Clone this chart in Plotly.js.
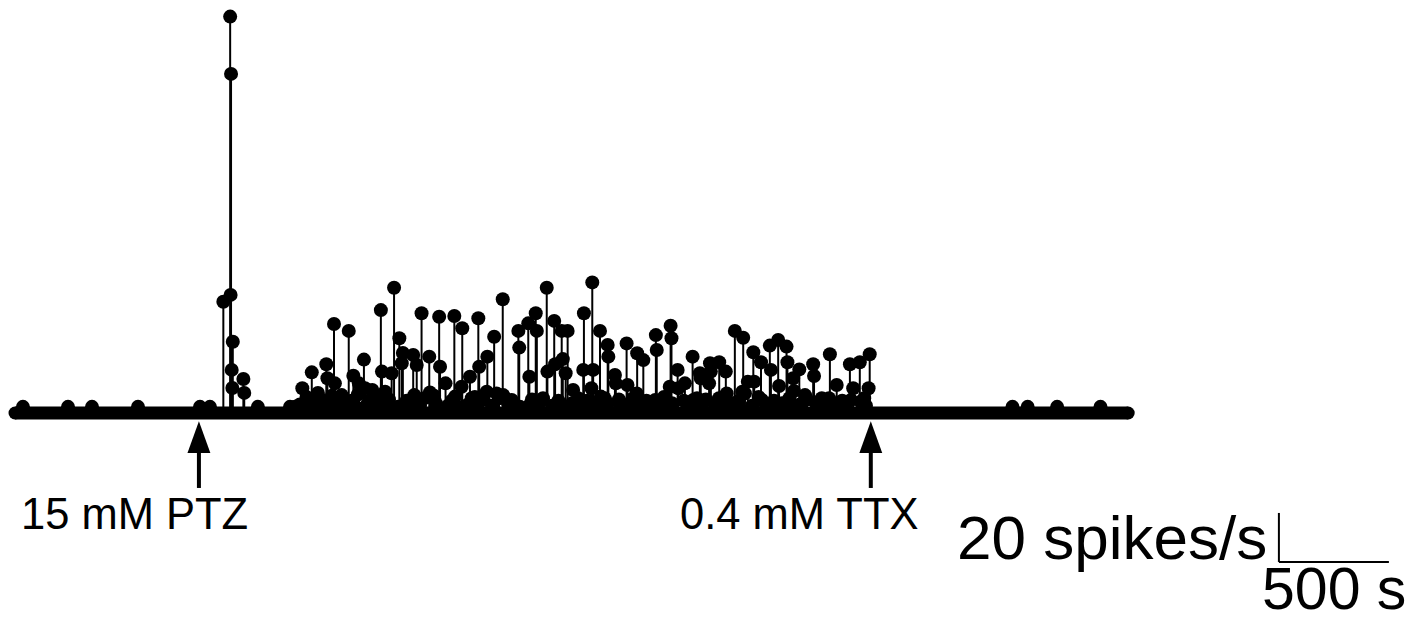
<!DOCTYPE html>
<html>
<head>
<meta charset="utf-8">
<script src="https://cdn.plot.ly/plotly-3.0.1.min.js"></script>
<style>
  html, body { margin: 0; padding: 0; background: #ffffff; }
  #chart { width: 1427px; height: 626px; }
</style>
</head>
<body>
<div id="chart"></div>
<script>
// Firing rate per time bin (s, spikes/s) across the recording.
const binTime = [
  36, 241, 350, 559, 841, 886,
  947, 978, 982, 980, 985, 988, 990, 1038, 1042, 1104, 1250,
  1273, 1295, 1306, 1332, 1349, 1368, 1377, 1395, 1415, 1420, 1432, 1450, 1454, 1468,
  1485, 1500, 1513, 1517, 1538, 1550, 1563, 1586, 1591, 1604, 1624, 1641, 1663, 1668,
  1682, 1695, 1712, 1723, 1741, 1747, 1758, 1763, 1795, 1810, 1815, 1826, 1841, 1848,
  1883, 1886, 1913, 1928, 1932, 1957, 1968, 1997, 2000, 2013, 2030, 2033, 2059, 2068,
  2076, 2104, 2106, 2110, 2144, 2147, 2168, 2178, 2189, 2217, 2219, 2241, 2258, 2288,
  2292, 2295, 2333, 2338, 2341, 2367, 2372, 2386, 2417, 2420, 2441, 2451, 2455, 2477,
  2485, 2490, 2503, 2512, 2532, 2537, 2568, 2583, 2586, 2613, 2620, 2624, 2628, 2650,
  2659, 2663, 2694, 2695, 2697, 2727, 2731, 2750, 2780, 2784, 2795, 2826, 2828, 2841,
  2856, 2886, 2910, 2913, 2917, 2941, 2976, 2980, 2984, 2986, 3012, 3015, 3045, 3068,
  3080, 3083, 3113, 3117, 3122, 3155, 3159, 3163, 3186, 3201, 3222, 3231, 3235, 3268,
  3272, 3306, 3310, 3318, 3331, 3350, 3356, 3360, 3391, 3395, 3413, 3431, 3436, 3469,
  3473, 3486, 3507, 3511, 3522, 3537, 3541, 3565, 3568, 3591, 3628, 3632, 3641, 3667,
  3695, 3704, 3735, 3740, 3777, 3795, 3800, 3810, 3840, 3844, 3868, 3880, 3885,
  4534, 4603, 4737, 4934,
  1325, 1390, 1440, 1472, 1530, 1558, 1612, 1650, 1700, 1780, 1860, 1905, 1985, 2090,
  2130, 2200, 2350, 2400, 2470, 2560, 2600, 2680, 2745, 2810, 2870, 2950, 3040, 3100,
  3140, 3200, 3290, 3380, 3450, 3520, 3600, 3700, 3760, 3860
];
const spikeRate = [
  2.5, 2.5, 2.5, 2.5, 2.5, 2.5,
  45.4, 161.8, 138.4, 48.2, 17.6, 10.2, 29.1, 13.9, 8.2, 2.5, 2.5,
  2.6, 3.5, 10.1, 2.5, 16.6, 4.0, 8.2, 3.0, 19.9, 14.2, 4.5, 36.3, 12.1, 3.0,
  7.3, 4.6, 3.5, 33.5, 15.2, 2.5, 12.1, 21.8, 10.1, 4.0, 9.4, 3.0, 42.0, 16.9,
  8.7, 4.0, 16.2, 51.1, 2.5, 30.5, 20.3, 24.5, 3.5, 23.7, 7.3, 19.6, 3.0, 40.7,
  23.0, 8.4, 4.0, 39.3, 18.9, 12.1, 3.0, 39.6, 6.7, 2.5, 10.7, 34.6, 3.5, 14.8,
  6.0, 4.0, 38.7, 18.9, 8.7, 23.0, 3.0, 31.1, 8.0, 46.4, 7.3, 4.0, 5.3, 33.5,
  26.7, 2.5, 36.6, 14.8, 3.5, 40.7, 33.5, 4.5, 51.1, 16.9, 3.0, 37.6, 19.9, 3.5,
  33.5, 22.0, 16.2, 33.5, 4.0, 9.4, 3.0, 17.6, 40.7, 4.5, 10.1, 53.3, 17.6, 3.0,
  33.5, 6.7, 27.8, 4.0, 23.0, 15.5, 12.1, 3.5, 28.4, 11.4, 4.0, 8.0, 24.4, 3.0,
  21.6, 4.5, 5.3, 31.8, 25.7, 3.0, 10.7, 35.6, 30.5, 4.0, 17.6, 10.1, 12.1, 3.5,
  23.0, 5.3, 16.2, 14.2, 3.0, 12.1, 20.3, 16.9, 4.0, 20.7, 3.5, 16.9, 8.0, 4.0,
  33.5, 8.7, 30.7, 8.0, 12.8, 3.0, 24.8, 12.8, 20.7, 5.3, 3.5, 27.5, 17.6, 29.8,
  11.0, 4.0, 27.1, 20.7, 3.0, 14.2, 9.0, 17.8, 3.5, 7.3, 19.9, 15.1, 4.0, 6.0,
  3.0, 24.0, 11.4, 4.0, 3.5, 19.9, 5.3, 10.1, 20.7, 4.6, 3.0, 10.1, 24.0,
  2.5, 2.5, 2.5, 2.5,
  6.5, 5.5, 7.0, 6.0, 5.0, 7.5, 5.0, 6.0, 5.5, 5.0, 6.0, 7.0, 5.0, 6.5,
  5.5, 6.0, 5.5, 6.0, 5.0, 6.0, 5.0, 6.0, 5.5, 6.0, 5.0, 6.5, 5.0, 6.0,
  5.5, 6.0, 5.0, 6.5, 5.0, 6.0, 5.5, 6.0, 5.0, 6.0
];

// Recording span and drug application times (s)
const recordSpan = [0, 5060];
const drugLabels = ["15 mM PTZ", "0.4 mM TTX"];
const drugTimes = [836, 3890];
const labelTimes = [545, 3568];

// Scale bar sizes
const scaleRate = 20;   // spikes/s
const scaleTime = 500;  // s

const ink = "#000000";
const font = { family: "Arial, 'Liberation Sans', sans-serif", color: ink };

const traces = [
  {
    // thick baseline made of the zero-rate bins
    x: recordSpan,
    y: [0, 0],
    type: "scatter",
    mode: "lines+markers",
    line: { color: ink, width: 13 },
    marker: { color: ink, size: 13 },
    hoverinfo: "skip"
  },
  {
    // stems with a dot at each bin's rate
    x: binTime,
    y: spikeRate,
    type: "scatter",
    mode: "markers",
    marker: { color: ink, size: 14 },
    error_y: {
      type: "data",
      symmetric: false,
      array: spikeRate.map(() => 0),
      arrayminus: spikeRate,
      color: ink,
      thickness: 2,
      width: 0
    },
    hoverinfo: "x+y"
  }
];

// Arrow geometry (data units)
const tipY = -3.4, headBaseY = -16.3, tailY = -30.6, headHalf = 52;

const shapes = [];
drugTimes.forEach(t => {
  shapes.push({
    type: "line", xref: "x", yref: "y",
    x0: t, x1: t, y0: headBaseY + 1, y1: tailY,
    line: { color: ink, width: 4 }
  });
  shapes.push({
    type: "path", xref: "x", yref: "y",
    path: `M ${t - headHalf},${headBaseY} L ${t + headHalf},${headBaseY} L ${t},${tipY} Z`,
    fillcolor: ink, line: { color: ink, width: 0 }
  });
});

// Scale bar: vertical = 20 spikes/s, horizontal = 500 s
const barX = 5745, barY = -60.8;
shapes.push({
  type: "line", xref: "x", yref: "y",
  x0: barX, x1: barX, y0: barY, y1: barY + scaleRate,
  line: { color: ink, width: 2 }
});
shapes.push({
  type: "line", xref: "x", yref: "y",
  x0: barX, x1: barX + scaleTime, y0: barY, y1: barY,
  line: { color: ink, width: 2 }
});

const annotations = drugLabels.map((txt, i) => ({
  text: txt, x: labelTimes[i], y: -41.2, xref: "x", yref: "y",
  showarrow: false, xanchor: "center", yanchor: "middle",
  font: Object.assign({ size: 43.5 }, font)
}));
annotations.push({
  text: scaleRate + " spikes/s", x: barX - 45, y: barY + 10, xref: "x", yref: "y",
  showarrow: false, xanchor: "right", yanchor: "middle",
  font: Object.assign({ size: 62 }, font)
});
annotations.push({
  text: scaleTime + " s", x: barX + 250, y: barY - 11, xref: "x", yref: "y",
  showarrow: false, xanchor: "center", yanchor: "middle",
  font: Object.assign({ size: 59 }, font)
});

const layout = {
  width: 1427,
  height: 626,
  margin: { l: 0, r: 0, t: 0, b: 0 },
  paper_bgcolor: "#ffffff",
  plot_bgcolor: "#ffffff",
  showlegend: false,
  xaxis: { visible: false, range: [-68.18, 6418.2], fixedrange: true },
  yaxis: { visible: false, range: [-86.94, 168.57], fixedrange: true },
  shapes: shapes,
  annotations: annotations
};

Plotly.newPlot("chart", traces, layout, { displayModeBar: false, staticPlot: true });
</script>
</body>
</html>
